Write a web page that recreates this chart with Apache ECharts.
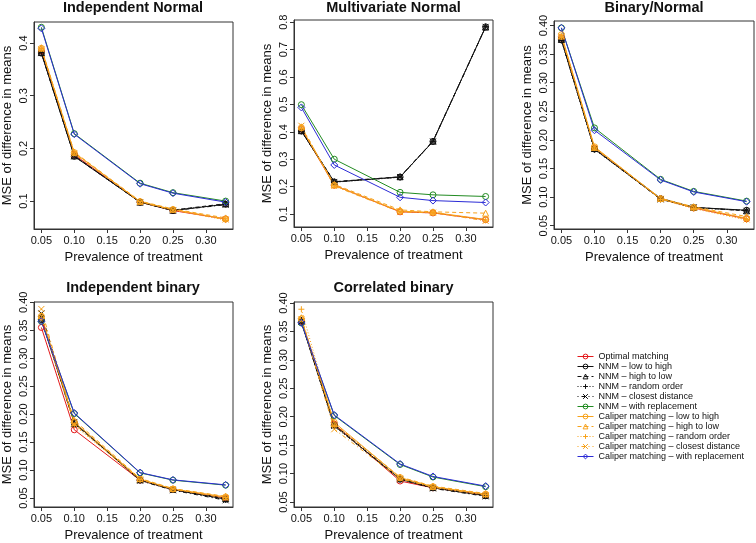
<!DOCTYPE html>
<html><head><meta charset="utf-8">
<script src="https://cdn.jsdelivr.net/npm/echarts@6/dist/echarts.min.js"></script>
<style>html,body{margin:0;padding:0;background:#fff}#c{width:756px;height:543px}</style>
</head><body><div id="c"></div>
<script>
// ---------- data ----------
const prevalence = [0.05, 0.10, 0.20, 0.25, 0.33];
const xTickValues = [0.05, 0.10, 0.15, 0.20, 0.25, 0.30];
const yTicksP1 = [0.1, 0.2, 0.3, 0.4];
const yTicksP2 = [0.1, 0.2, 0.3, 0.4, 0.5, 0.6, 0.7, 0.8];
const yTicksP345 = [0.05, 0.10, 0.15, 0.20, 0.25, 0.30, 0.35, 0.40];

const panelTitles = ['Independent Normal', 'Multivariate Normal', 'Binary/Normal', 'Independent binary', 'Correlated binary'];
const methods = ['Optimal matching', 'NNM – low to high', 'NNM – high to low', 'NNM – random order',
  'NNM – closest distance', 'NNM – with replacement', 'Caliper matching – low to high',
  'Caliper matching – high to low', 'Caliper matching – random order',
  'Caliper matching – closest distance', 'Caliper matching – with replacement'];

// Panel 1: Independent Normal
const p1_optimal   = [0.385, 0.188, 0.098, 0.082, 0.066];
const p1_nnmLow    = [0.381, 0.185, 0.098, 0.082, 0.094];
const p1_nnmHigh   = [0.382, 0.186, 0.098, 0.083, 0.095];
const p1_nnmRand   = [0.382, 0.186, 0.099, 0.083, 0.094];
const p1_nnmClose  = [0.381, 0.185, 0.098, 0.082, 0.093];
const p1_nnmRepl   = [0.430, 0.228, 0.134, 0.116, 0.100];
const p1_calLow    = [0.390, 0.192, 0.099, 0.084, 0.066];
const p1_calHigh   = [0.391, 0.193, 0.100, 0.085, 0.068];
const p1_calRand   = [0.389, 0.191, 0.099, 0.083, 0.064];
const p1_calClose  = [0.388, 0.190, 0.098, 0.083, 0.065];
const p1_calRepl   = [0.428, 0.227, 0.133, 0.115, 0.098];

// Panel 2: Multivariate Normal
const p2_optimal   = [0.410, 0.205, 0.108, 0.104, 0.079];
const p2_nnmLow    = [0.403, 0.217, 0.235, 0.365, 0.783];
const p2_nnmHigh   = [0.404, 0.218, 0.236, 0.366, 0.782];
const p2_nnmRand   = [0.402, 0.216, 0.234, 0.364, 0.784];
const p2_nnmClose  = [0.403, 0.217, 0.235, 0.365, 0.783];
const p2_nnmRepl   = [0.499, 0.300, 0.179, 0.170, 0.164];
const p2_calLow    = [0.415, 0.205, 0.110, 0.106, 0.080];
const p2_calHigh   = [0.418, 0.208, 0.115, 0.108, 0.103];
const p2_calRand   = [0.412, 0.203, 0.108, 0.104, 0.078];
const p2_calClose  = [0.422, 0.202, 0.107, 0.105, 0.075];
const p2_calRepl   = [0.489, 0.279, 0.161, 0.149, 0.142];

// Panel 3: Binary/Normal
const p3_optimal   = [0.378, 0.185, 0.097, 0.081, 0.062];
const p3_nnmLow    = [0.375, 0.184, 0.097, 0.082, 0.077];
const p3_nnmHigh   = [0.376, 0.185, 0.098, 0.082, 0.076];
const p3_nnmRand   = [0.374, 0.183, 0.097, 0.081, 0.077];
const p3_nnmClose  = [0.375, 0.184, 0.096, 0.082, 0.076];
const p3_nnmRepl   = [0.396, 0.221, 0.131, 0.110, 0.093];
const p3_calLow    = [0.384, 0.188, 0.097, 0.082, 0.063];
const p3_calHigh   = [0.382, 0.187, 0.098, 0.083, 0.066];
const p3_calRand   = [0.380, 0.186, 0.096, 0.080, 0.060];
const p3_calClose  = [0.381, 0.186, 0.097, 0.081, 0.061];
const p3_calRepl   = [0.396, 0.217, 0.130, 0.109, 0.092];

// Panel 4: Independent binary
const p4_optimal   = [0.355, 0.172, 0.082, 0.065, 0.050];
const p4_nnmLow    = [0.369, 0.185, 0.082, 0.065, 0.048];
const p4_nnmHigh   = [0.372, 0.183, 0.083, 0.066, 0.049];
const p4_nnmRand   = [0.375, 0.184, 0.082, 0.065, 0.047];
const p4_nnmClose  = [0.380, 0.186, 0.081, 0.064, 0.046];
const p4_nnmRepl   = [0.366, 0.201, 0.095, 0.082, 0.073];
const p4_calLow    = [0.375, 0.186, 0.084, 0.066, 0.052];
const p4_calHigh   = [0.376, 0.189, 0.085, 0.067, 0.053];
const p4_calRand   = [0.372, 0.180, 0.083, 0.066, 0.051];
const p4_calClose  = [0.388, 0.182, 0.083, 0.066, 0.050];
const p4_calRepl   = [0.366, 0.202, 0.0955, 0.0825, 0.0736];

// Panel 5: Correlated binary
const p5_optimal   = [0.368, 0.187, 0.087, 0.075, 0.062];
const p5_nnmLow    = [0.366, 0.185, 0.090, 0.075, 0.061];
const p5_nnmHigh   = [0.370, 0.186, 0.092, 0.076, 0.062];
const p5_nnmRand   = [0.368, 0.183, 0.091, 0.075, 0.061];
const p5_nnmClose  = [0.367, 0.184, 0.090, 0.074, 0.060];
const p5_nnmRepl   = [0.365, 0.202, 0.116, 0.094, 0.077];
const p5_calLow    = [0.372, 0.190, 0.093, 0.077, 0.064];
const p5_calHigh   = [0.374, 0.188, 0.094, 0.078, 0.065];
const p5_calRand   = [0.389, 0.185, 0.092, 0.076, 0.063];
const p5_calClose  = [0.371, 0.178, 0.091, 0.076, 0.062];
const p5_calRepl   = [0.365, 0.203, 0.117, 0.095, 0.078];

const panelData = [
  [p1_optimal, p1_nnmLow, p1_nnmHigh, p1_nnmRand, p1_nnmClose, p1_nnmRepl, p1_calLow, p1_calHigh, p1_calRand, p1_calClose, p1_calRepl],
  [p2_optimal, p2_nnmLow, p2_nnmHigh, p2_nnmRand, p2_nnmClose, p2_nnmRepl, p2_calLow, p2_calHigh, p2_calRand, p2_calClose, p2_calRepl],
  [p3_optimal, p3_nnmLow, p3_nnmHigh, p3_nnmRand, p3_nnmClose, p3_nnmRepl, p3_calLow, p3_calHigh, p3_calRand, p3_calClose, p3_calRepl],
  [p4_optimal, p4_nnmLow, p4_nnmHigh, p4_nnmRand, p4_nnmClose, p4_nnmRepl, p4_calLow, p4_calHigh, p4_calRand, p4_calClose, p4_calRepl],
  [p5_optimal, p5_nnmLow, p5_nnmHigh, p5_nnmRand, p5_nnmClose, p5_nnmRepl, p5_calLow, p5_calHigh, p5_calRand, p5_calClose, p5_calRepl]
];

// ---------- styling / layout ----------
const FONT = '"Liberation Sans", Arial, Helvetica, sans-serif';
const RED = '#e41a1c', BLK = '#111111', GRN = '#228b22', ORG = '#f7a21b', BLU = '#2b2bd6';
const PLUS = 'path://M0,5L10,5M5,0L5,10';
const CROSS = 'path://M0,0L10,10M10,0L0,10';
const DASH = [4, 3], DOT = [1, 2], DOTDASH = [1, 3, 4, 3];
const styles = [
  {c: RED, s: 'circle', d: 'solid'},
  {c: BLK, s: 'circle', d: 'solid'},
  {c: BLK, s: 'triangle', d: DASH},
  {c: BLK, s: PLUS, d: DOT},
  {c: BLK, s: CROSS, d: DOTDASH},
  {c: GRN, s: 'circle', d: 'solid'},
  {c: ORG, s: 'circle', d: 'solid'},
  {c: ORG, s: 'triangle', d: DASH},
  {c: ORG, s: PLUS, d: DOT},
  {c: ORG, s: CROSS, d: DOTDASH},
  {c: BLU, s: 'diamond', d: 'solid'}
];
const grids = [
  {left: 33, top: 22, width: 200, height: 207},
  {left: 294, top: 20, width: 199, height: 207},
  {left: 554, top: 21, width: 200, height: 208},
  {left: 33, top: 302, width: 200, height: 207},
  {left: 294, top: 302, width: 199, height: 207}
];
const yRanges = [[0.047, 0.440], [0.0526, 0.808], [0.0442, 0.408], [0.034, 0.4005], [0.0413, 0.4017]];
const yTickSets = [yTicksP1, yTicksP2, yTicksP345, yTicksP345, yTicksP345];
const yDecimals = [1, 1, 2, 2, 2];

const titles = panelTitles.map((t, i) => ({
  text: t, left: grids[i].left + grids[i].width / 2, top: i < 3 ? 0 : 280, textAlign: 'center', padding: 0,
  textStyle: {fontFamily: FONT, fontSize: 14.5, fontWeight: 'bold', color: '#111'}
}));

const xAxes = grids.map((g, i) => ({
  gridIndex: i, type: 'value', min: 0.0388, max: 0.3412,
  name: 'Prevalence of treatment', nameLocation: 'middle', nameGap: 22,
  nameTextStyle: {fontFamily: FONT, fontSize: 13, color: '#111'},
  axisLine: {show: true, lineStyle: {color: '#333', width: 1}},
  axisTick: {show: true, length: 4, customValues: xTickValues, lineStyle: {color: '#333'}},
  axisLabel: {customValues: xTickValues, formatter: v => v.toFixed(2), fontFamily: FONT, fontSize: 11, color: '#111', margin: 6},
  splitLine: {show: false}
}));
const yAxes = grids.map((g, i) => ({
  gridIndex: i, type: 'value', min: yRanges[i][0], max: yRanges[i][1],
  name: 'MSE of difference in means', nameLocation: 'middle', nameGap: 20,
  nameTextStyle: {fontFamily: FONT, fontSize: 13, color: '#111'},
  axisLine: {show: true, lineStyle: {color: '#333', width: 1}},
  axisTick: {show: true, length: 4, customValues: yTickSets[i], lineStyle: {color: '#333'}},
  axisLabel: {customValues: yTickSets[i], rotate: 90, formatter: v => v.toFixed(yDecimals[i]), fontFamily: FONT, fontSize: 11, color: '#111', margin: 5},
  splitLine: {show: false}
}));

const series = [];
panelData.forEach((arrs, p) => {
  arrs.forEach((vals, m) => {
    const st = styles[m];
    series.push({
      name: methods[m], type: 'line', xAxisIndex: p, yAxisIndex: p,
      data: vals.map((v, k) => [prevalence[k], v]),
      symbol: st.s, symbolSize: st.s === 'diamond' ? 7 : 6,
      lineStyle: {color: st.c, width: 1, type: st.d},
      itemStyle: {color: 'rgba(0,0,0,0)', borderColor: st.c, borderWidth: 1},
      emphasis: {disabled: true}, animation: false
    });
  });
});

const chart = echarts.init(document.getElementById('c'), null, {renderer: 'canvas'});
chart.setOption({
  backgroundColor: '#fff', animation: false,
  textStyle: {fontFamily: FONT},
  title: titles,
  grid: grids.map(g => Object.assign({show: true, borderColor: '#333', borderWidth: 1, backgroundColor: 'transparent'}, g)),
  xAxis: xAxes, yAxis: yAxes,
  legend: {
    data: methods, orient: 'vertical', left: 577, top: 352, padding: 0,
    itemWidth: 16, itemHeight: 6, itemGap: 1, selectedMode: false,
    itemStyle: {color: 'rgba(0,0,0,0)', borderWidth: 1},
    lineStyle: {width: 1},
    textStyle: {fontFamily: FONT, fontSize: 9, lineHeight: 9, color: '#111'}
  },
  series: series
});
</script></body></html>
